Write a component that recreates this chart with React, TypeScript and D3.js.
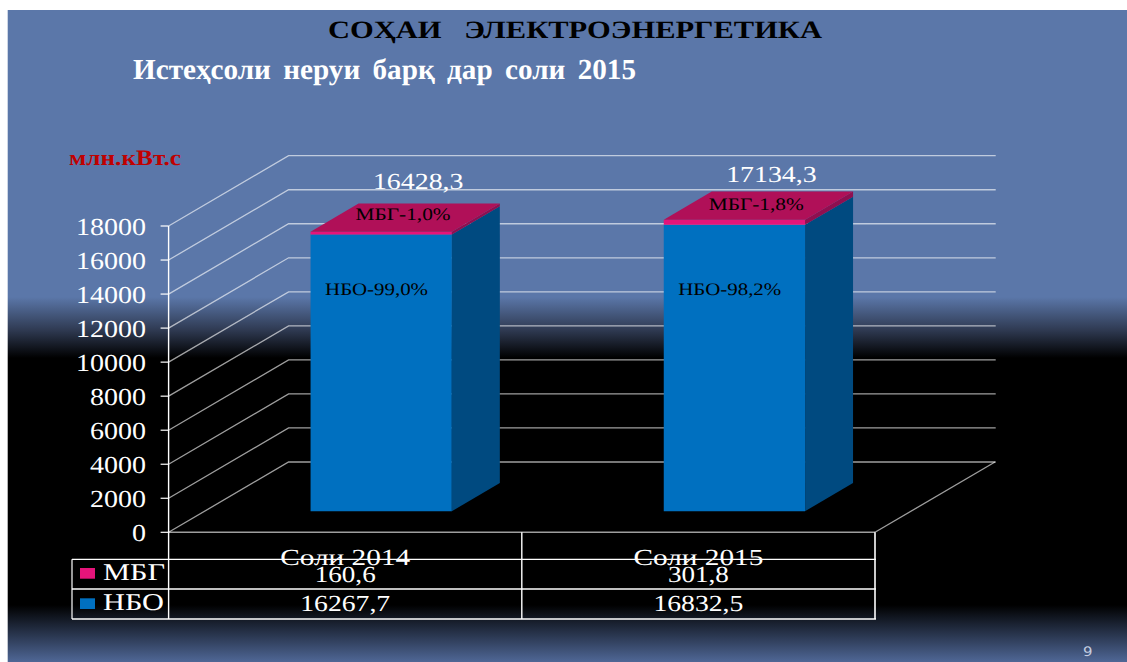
import React from "react";
import * as d3 from "d3";

const categories = ["Соли 2014", "Соли 2015"];
const mbgValues = [160.6, 301.8];
const nboValues = [16267.7, 16832.5];
const mbgLabels = ["160,6", "301,8"];
const nboLabels = ["16267,7", "16832,5"];
const totalLabels = ["16428,3", "17134,3"];
const mbgShare = ["МБГ-1,0%", "МБГ-1,8%"];
const nboShare = ["НБО-99,0%", "НБО-98,2%"];
const yTicks = [0, 2000, 4000, 6000, 8000, 10000, 12000, 14000, 16000, 18000];

const W = 1127, H = 662;
const SERIF = "'Liberation Serif', serif";
const x = d3.scaleBand<string>().domain(categories).range([168.6, 875]).paddingInner(0.6).paddingOuter(0.3);
const y = d3.scaleLinear().domain([0, 18000]).range([532.3, 226]);
const floorStep = x.step();
const depthX = d3.scaleLinear().domain([0, 1]).range([0, 120]);
const depthY = d3.scaleLinear().domain([0, 1]).range([0, -70.3]);
const BAR_D0 = 0.3, BAR_D1 = 0.7;
const wallRight = 995.7;
const tableLeft = 72, axisX = x.range()[0], tableRight = x.range()[1];
const rowTop = [559.3, 589, 619];

function pt(px: number, value: number, d: number): string {
  return `${px + depthX(d)},${y(value) + depthY(d)}`;
}

function Box({ x0, x1, v0, v1, front, side, top }: any) {
  return (
    <g>
      <polygon points={[pt(x0, v0, BAR_D0), pt(x1, v0, BAR_D0), pt(x1, v1, BAR_D0), pt(x0, v1, BAR_D0)].join(" ")} fill={front} />
      <polygon points={[pt(x1, v0, BAR_D0), pt(x1, v0, BAR_D1), pt(x1, v1, BAR_D1), pt(x1, v1, BAR_D0)].join(" ")} fill={side} />
      {top && <polygon points={[pt(x0, v1, BAR_D0), pt(x1, v1, BAR_D0), pt(x1, v1, BAR_D1), pt(x0, v1, BAR_D1)].join(" ")} fill={top} />}
    </g>
  );
}

function T({ children, tx, ty, size, w, anchor = "start", fill = "#fff", weight = "normal", family = SERIF, wordSpacing }: any) {
  return (
    <text x={tx} y={ty} fontSize={size} fontFamily={family} fontWeight={weight} fill={fill} textAnchor={anchor}
      textLength={w} lengthAdjust="spacingAndGlyphs" wordSpacing={wordSpacing} textRendering="geometricPrecision" style={{ whiteSpace: "pre" }}>
      {children}
    </text>
  );
}

export default function App() {
  const grid = "rgba(255,255,255,0.62)";
  return (
    <svg width={W} height={H} viewBox={`0 0 ${W} ${H}`} style={{ position: "absolute", left: 0, top: 0, display: "block" }}>
      <defs>
        <linearGradient id="bg" x1="0" y1="10" x2="0" y2="662" gradientUnits="userSpaceOnUse">
          <stop offset={0} stopColor="#5b77a9" />
          <stop offset={(297 - 10) / 652} stopColor="#5b77a9" />
          <stop offset={(330 - 10) / 652} stopColor="#2f3a52" />
          <stop offset={(358 - 10) / 652} stopColor="#000" />
          <stop offset={(605 - 10) / 652} stopColor="#000" />
          <stop offset={1} stopColor="#4f6796" />
        </linearGradient>
      </defs>
      <rect x={0} y={0} width={W} height={H} fill="#fff" />
      <rect x={7.7} y={10} width={W - 7.7} height={H - 10} fill="url(#bg)" />

      <T tx={328} ty={38} size={25} w={494} weight="bold" fill="#000">{"СОҲАИ   ЭЛЕКТРОЭНЕРГЕТИКА"}</T>
      <T tx={133} ty={79} size={29} w={503} weight="bold" wordSpacing={5}>{"Истеҳсоли неруи барқ дар соли 2015"}</T>
      <T tx={69} ty={165} size={22} w={112} weight="bold" fill="#c00000">млн.кВт.с</T>

      {yTicks.map((t) => (
        <g key={t}>
          <polyline
            points={[`${axisX},${y(t)}`, pt(axisX, t, 1), `${wallRight},${y(t) + depthY(1)}`].join(" ")}
            fill="none" stroke={grid} strokeWidth={1.3} />
          <line x1={axisX - 8} x2={axisX} y1={y(t)} y2={y(t)} stroke="#fff" strokeWidth={1.2} />
          <T tx={146} ty={y(t) + 8.5} size={24.5} anchor="end" w={String(t).length * 14}>{String(t)}</T>
        </g>
      ))}
      <line x1={tableRight} x2={tableRight + depthX(1)} y1={y(0)} y2={y(0) + depthY(1)} stroke={grid} strokeWidth={1.3} />
      <line x1={axisX} x2={tableRight} y1={y(0)} y2={y(0)} stroke={grid} strokeWidth={1.5} />

      {categories.map((c, i) => {
        const x0 = x(c)!;
        const x1 = x0 + x.bandwidth();
        const topValue = nboValues[i] + mbgValues[i];
        return (
          <g key={c}>
            <Box x0={x0} x1={x1} v0={0} v1={nboValues[i]} front="#0070c0" side="#004a80" />
            <Box x0={x0} x1={x1} v0={nboValues[i]} v1={topValue} front="#e6147a" side="#8f0f50" top="#b01058" />
          </g>
        );
      })}

      {categories.map((c, i) => {
        const frontLeft = x(c)! + depthX(BAR_D0);
        const topValue = nboValues[i] + mbgValues[i];
        const backTop = y(topValue) + depthY(BAR_D1);
        const cx = frontLeft + x.bandwidth() / 2;
        return (
          <g key={c + "l"}>
            <T tx={cx + 37} ty={backTop - (i === 0 ? 15 : 10)} size={23} anchor="middle" w={90.5}>{totalLabels[i]}</T>
            <T tx={frontLeft + 45} ty={backTop + (i === 0 ? 16 : 18)} size={17.5} fill="#000" w={95}>{mbgShare[i]}</T>
            <T tx={frontLeft + 14.5} ty={295} size={17.5} fill="#000" w={103}>{nboShare[i]}</T>
          </g>
        );
      })}

      {/* data table */}
      {rowTop.map((ry) => (
        <line key={ry} x1={tableLeft} x2={tableRight + 1} y1={ry} y2={ry} stroke="#fff" strokeWidth={1.3} />
      ))}
      <line x1={tableLeft} x2={tableLeft} y1={rowTop[0]} y2={rowTop[2]} stroke="#fff" strokeWidth={1.2} />
      <line x1={axisX} x2={axisX} y1={y(18000)} y2={rowTop[2]} stroke="#fff" strokeWidth={1.4} />
      <line x1={axisX + floorStep} x2={axisX + floorStep} y1={y(0)} y2={rowTop[2]} stroke="#fff" strokeWidth={1.4} />
      <line x1={tableRight} x2={tableRight} y1={y(0)} y2={rowTop[2]} stroke="#fff" strokeWidth={1.6} />

      <rect x={80} y={568} width={15} height={10.7} fill="#e6147a" />
      <rect x={80} y={598.3} width={15} height={10.7} fill="#0070c0" />
      <T tx={103} ty={580} size={24} w={62}>МБГ</T>
      <T tx={103} ty={610} size={24} w={61}>НБО</T>

      {categories.map((c, i) => {
        const cx = axisX + floorStep * (i + 0.5);
        return (
          <g key={c + "t"}>
            <T tx={cx} ty={565} size={23} anchor="middle" w={130}>{c}</T>
            <T tx={cx} ty={581.7} size={23} anchor="middle" w={61}>{mbgLabels[i]}</T>
            <T tx={cx} ty={611} size={23} anchor="middle" w={90}>{nboLabels[i]}</T>
          </g>
        );
      })}

      <T tx={1083} ty={656} size={13} w={9.5} fill="#c4cde0" family="'DejaVu Sans', sans-serif">9</T>
    </svg>
  );
}
